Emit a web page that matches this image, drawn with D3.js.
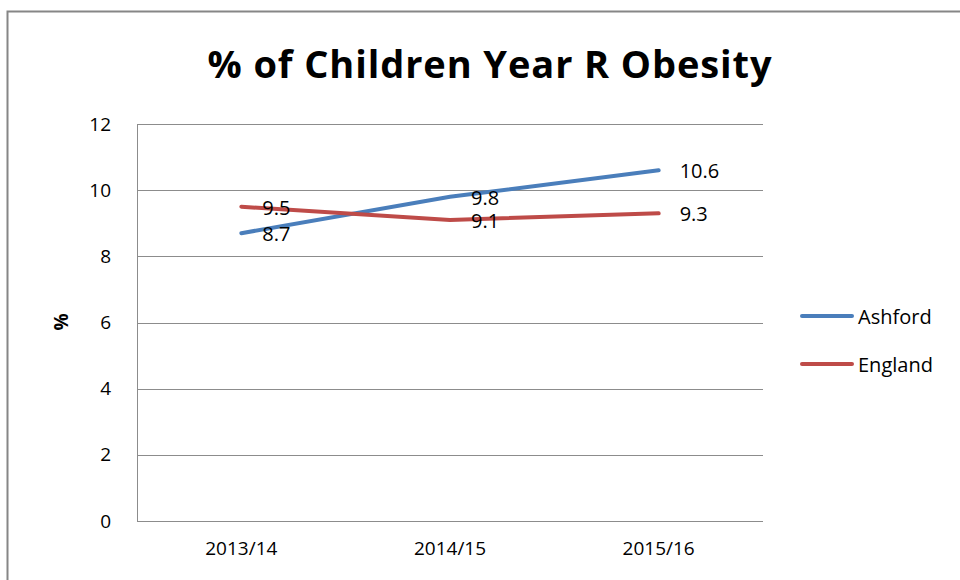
<!DOCTYPE html>
<html>
<head>
<meta charset="utf-8">
<script src="https://cdn.jsdelivr.net/npm/d3@7"></script>
<style>
  body { margin: 0; background: #fff; }
  text { font-family: "Open Sans", "Noto Sans", sans-serif; fill: #000; }
</style>
</head>
<body>
<div id="chart"></div>
<script>
var years = ["2013/14", "2014/15", "2015/16"];
var ashford = [8.7, 9.8, 10.6];
var england = [9.5, 9.1, 9.3];
var yTicks = [0, 2, 4, 6, 8, 10, 12];

var series = [
  { name: "Ashford", values: ashford, color: "#4A7EBB" },
  { name: "England", values: england, color: "#BE4B48" }
];

var width = 960,
    height = 580;

var svg = d3.select("#chart")
  .append("svg")
  .attr("width", width)
  .attr("height", height);

// outer chart frame (right and bottom run off the picture)
svg.append("rect")
  .attr("x", 7.5)
  .attr("y", 11.5)
  .attr("width", 960)
  .attr("height", 600)
  .attr("fill", "#fff")
  .attr("stroke", "#868686")
  .attr("stroke-width", 2);

svg.append("text")
  .attr("x", 490)
  .attr("y", 78)
  .attr("text-anchor", "middle")
  .style("font-size", "38px")
  .style("font-weight", "bold")
  .style("letter-spacing", "0.9px")
  .text("% of Children Year R Obesity");

var plotL = 137, plotR = 763, plotT = 124, plotB = 521;

var x = d3.scaleBand().domain(years).range([plotL, plotR]);
var y = d3.scaleLinear().domain([0, 12]).range([plotB, plotT]);

var g = svg.append("g");

// gridlines
g.selectAll(".grid")
  .data(yTicks)
  .enter().append("line")
  .attr("class", "grid")
  .attr("x1", plotL)
  .attr("x2", plotR)
  .attr("y1", function(d){ return Math.round(y(d)) + 0.5; })
  .attr("y2", function(d){ return Math.round(y(d)) + 0.5; })
  .attr("stroke", "#8c8c8c")
  .attr("stroke-width", 1);

// y axis line
g.append("line")
  .attr("x1", plotL + 0.5).attr("x2", plotL + 0.5)
  .attr("y1", plotT).attr("y2", plotB)
  .attr("stroke", "#8c8c8c");

var yAxis = d3.axisLeft(y).tickValues(yTicks).tickSize(0).tickPadding(26);
var ya = g.append("g").attr("transform", "translate(" + plotL + ",0)").call(yAxis);
ya.select(".domain").remove();
ya.selectAll("text").style("font-size", "19px").attr("fill", "#000").style("font-family", "Open Sans, sans-serif");

var xAxis = d3.axisBottom(x).tickSize(0).tickPadding(21);
var xa = g.append("g").attr("transform", "translate(0," + plotB + ")").call(xAxis);
xa.select(".domain").remove();
xa.selectAll("text").style("font-size", "19px").attr("fill", "#000").style("font-family", "Open Sans, sans-serif");

svg.append("text")
  .attr("transform", "translate(68,322) rotate(-90)")
  .attr("text-anchor", "middle")
  .style("font-size", "19px")
  .style("font-weight", "bold")
  .text("%");

var line = d3.line()
  .x(function(d, i){ return x(years[i]) + x.bandwidth() / 2; })
  .y(function(d){ return y(d); });

series.forEach(function(s){
  g.append("path")
    .datum(s.values)
    .attr("d", line)
    .attr("fill", "none")
    .attr("stroke", s.color)
    .attr("stroke-width", 4)
    .attr("stroke-linecap", "round");
});

// data labels, to the right of each point
series.forEach(function(s){
  g.selectAll(null)
    .data(s.values)
    .enter().append("text")
    .attr("x", function(d, i){ return x(years[i]) + x.bandwidth() / 2 + 21; })
    .attr("y", function(d){ return y(d) + 8; })
    .style("font-size", "20px")
    .text(function(d){ return d.toFixed(1); });
});

// legend
var legend = svg.append("g").attr("transform", "translate(800,316)");
series.forEach(function(s, i){
  var row = legend.append("g").attr("transform", "translate(0," + (i * 48) + ")");
  row.append("line")
    .attr("x1", 2).attr("x2", 52)
    .attr("y1", 0).attr("y2", 0)
    .attr("stroke", s.color)
    .attr("stroke-width", 4)
    .attr("stroke-linecap", "round");
  row.append("text")
    .attr("x", 58)
    .attr("y", 8)
    .style("font-size", "20px")
    .text(s.name);
});
</script>
</body>
</html>
